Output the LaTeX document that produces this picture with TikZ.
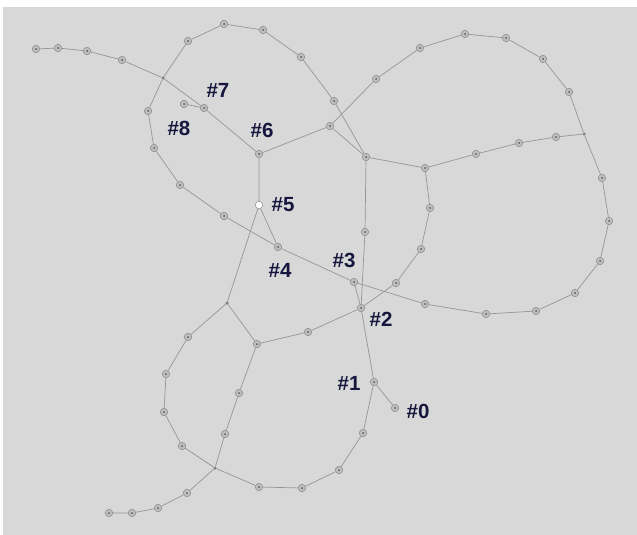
\documentclass[tikz,border=0pt]{standalone}
\usepackage{fontspec}
\setmainfont{Liberation Sans}
\definecolor{bggray}{RGB}{216,216,216}
\definecolor{linkgray}{RGB}{150,150,150}
\definecolor{ringgray}{RGB}{135,135,135}
\definecolor{dotgray}{RGB}{190,190,190}
\definecolor{labnavy}{RGB}{22,22,62}

\begin{document}
\begin{tikzpicture}[x=1pt,y=-1pt,
  pt/.style={circle,draw=ringgray,fill=dotgray,line width=0.5pt,minimum size=7.5pt,inner sep=0pt,
    path picture={\fill[black!65] (path picture bounding box.center) circle (1pt);}},
  wt/.style={circle,draw=ringgray,fill=white,line width=0.5pt,minimum size=7.5pt,inner sep=0pt},
  jn/.style={circle,fill=black!50,minimum size=3.5pt,inner sep=0pt},
  link/.style={draw=linkgray,line width=0.7pt},
  lab/.style={text=labnavy,font=\fontsize{20.5}{20.5}\selectfont\bfseries,inner sep=0pt}]
  \useasboundingbox (0,0) rectangle (637,535);
  \fill[white] (0,0) rectangle (637,535);
  \fill[bggray] (3,7) rectangle (637,535);

  \node[pt] (T1) at (36,49) {};
  \node[pt] (T2) at (58,48) {};
  \node[pt] (T3) at (87,51) {};
  \node[pt] (T4) at (122,60) {};
  \node[jn] (J1) at (163,78) {};
  \node[pt] (A1) at (188,41) {};
  \node[pt] (A2) at (224,24) {};
  \node[pt] (A3) at (263,30) {};
  \node[pt] (A4) at (301,57) {};
  \node[pt] (A5) at (334,101) {};
  \node[pt] (J2) at (366,157) {};
  \node[pt] (N8) at (184,104) {};
  \node[pt] (N7) at (204,108) {};
  \node[pt] (N6) at (259,154) {};
  \node[wt] (N5) at (259,205) {};
  \node[pt] (N4) at (278,247) {};
  \node[pt] (N3) at (354,282) {};
  \node[pt] (N2) at (361,308) {};
  \node[pt] (N1) at (374,382) {};
  \node[pt] (N0) at (395,408) {};
  \node[pt] (B1) at (148,111) {};
  \node[pt] (B2) at (154,148) {};
  \node[pt] (B3) at (180,185) {};
  \node[pt] (B4) at (224,216) {};
  \node[pt] (C1) at (425,304) {};
  \node[pt] (C2) at (486,314) {};
  \node[pt] (C3) at (536,311) {};
  \node[pt] (C4) at (575,293) {};
  \node[pt] (C5) at (600,261) {};
  \node[pt] (C6) at (609,221) {};
  \node[pt] (C7) at (602,178) {};
  \node[jn] (J3) at (584,134) {};
  \node[pt] (D0) at (330,126) {};
  \node[pt] (D1) at (376,79) {};
  \node[pt] (D2) at (420,48) {};
  \node[pt] (D3) at (465,34) {};
  \node[pt] (D4) at (506,38) {};
  \node[pt] (D5) at (543,59) {};
  \node[pt] (D6) at (569,92) {};
  \node[pt] (E1) at (425,168) {};
  \node[pt] (E2) at (476,154) {};
  \node[pt] (E3) at (519,143) {};
  \node[pt] (E4) at (556,137) {};
  \node[pt] (F1) at (430,208) {};
  \node[pt] (F2) at (421,249) {};
  \node[pt] (F3) at (396,283) {};
  \node[pt] (G1) at (365,232) {};
  \node[pt] (H1) at (363,433) {};
  \node[pt] (H2) at (339,470) {};
  \node[pt] (H3) at (302,488) {};
  \node[pt] (H4) at (259,487) {};
  \node[jn] (J4) at (215,468) {};
  \node[pt] (K1) at (308,332) {};
  \node[pt] (K2) at (257,344) {};
  \node[jn] (J5) at (227,303) {};
  \node[pt] (M1) at (188,337) {};
  \node[pt] (M2) at (166,374) {};
  \node[pt] (M3) at (164,412) {};
  \node[pt] (M4) at (182,446) {};
  \node[pt] (Q1) at (239,393) {};
  \node[pt] (Q2) at (225,434) {};
  \node[pt] (P1) at (187,493) {};
  \node[pt] (P2) at (158,508) {};
  \node[pt] (P3) at (132,513) {};
  \node[pt] (P4) at (109,513) {};

  \draw[link] (T1) -- (T2) -- (T3) -- (T4) -- (J1);
  \draw[link] (J1) -- (A1) -- (A2) -- (A3) -- (A4) -- (A5) -- (J2);
  \draw[link] (J1) -- (N7) -- (N6);
  \draw[link] (N8) -- (N7);
  \draw[link] (J1) -- (B1) -- (B2) -- (B3) -- (B4) -- (N4) -- (N3) -- (C1) -- (C2)
    -- (C3) -- (C4) -- (C5) -- (C6) -- (C7) -- (J3);
  \draw[link] (N6) -- (D0) -- (D1) -- (D2) -- (D3) -- (D4) -- (D5) -- (D6) -- (J3);
  \draw[link] (D0) -- (J2);
  \draw[link] (J2) -- (E1) -- (E2) -- (E3) -- (E4) -- (J3);
  \draw[link] (E1) -- (F1) -- (F2) -- (F3) -- (N2);
  \draw[link] (J2) -- (G1) -- (N2);
  \draw[link] (N3) -- (N2);
  \draw[link] (N2) -- (N1) -- (N0);
  \draw[link] (N1) -- (H1) -- (H2) -- (H3) -- (H4) -- (J4);
  \draw[link] (N2) -- (K1) -- (K2) -- (J5);
  \draw[link] (N6) -- (N5) -- (N4);
  \draw[link] (N5) -- (J5);
  \draw[link] (J5) -- (M1) -- (M2) -- (M3) -- (M4) -- (J4);
  \draw[link] (K2) -- (Q1) -- (Q2) -- (J4);
  \draw[link] (J4) -- (P1) -- (P2) -- (P3) -- (P4);

  \node[lab] (L7) at (218,90) {\#7};
  \node[lab] (L8) at (179,128) {\#8};
  \node[lab] (L6) at (262,130) {\#6};
  \node[lab] (L5) at (283,205) {\#5};
  \node[lab] (L4) at (280,270) {\#4};
  \node[lab] (L3) at (344,260) {\#3};
  \node[lab] (L2) at (381,319) {\#2};
  \node[lab] (L1) at (349,383) {\#1};
  \node[lab] (L0) at (418,411) {\#0};
\end{tikzpicture}
\end{document}
